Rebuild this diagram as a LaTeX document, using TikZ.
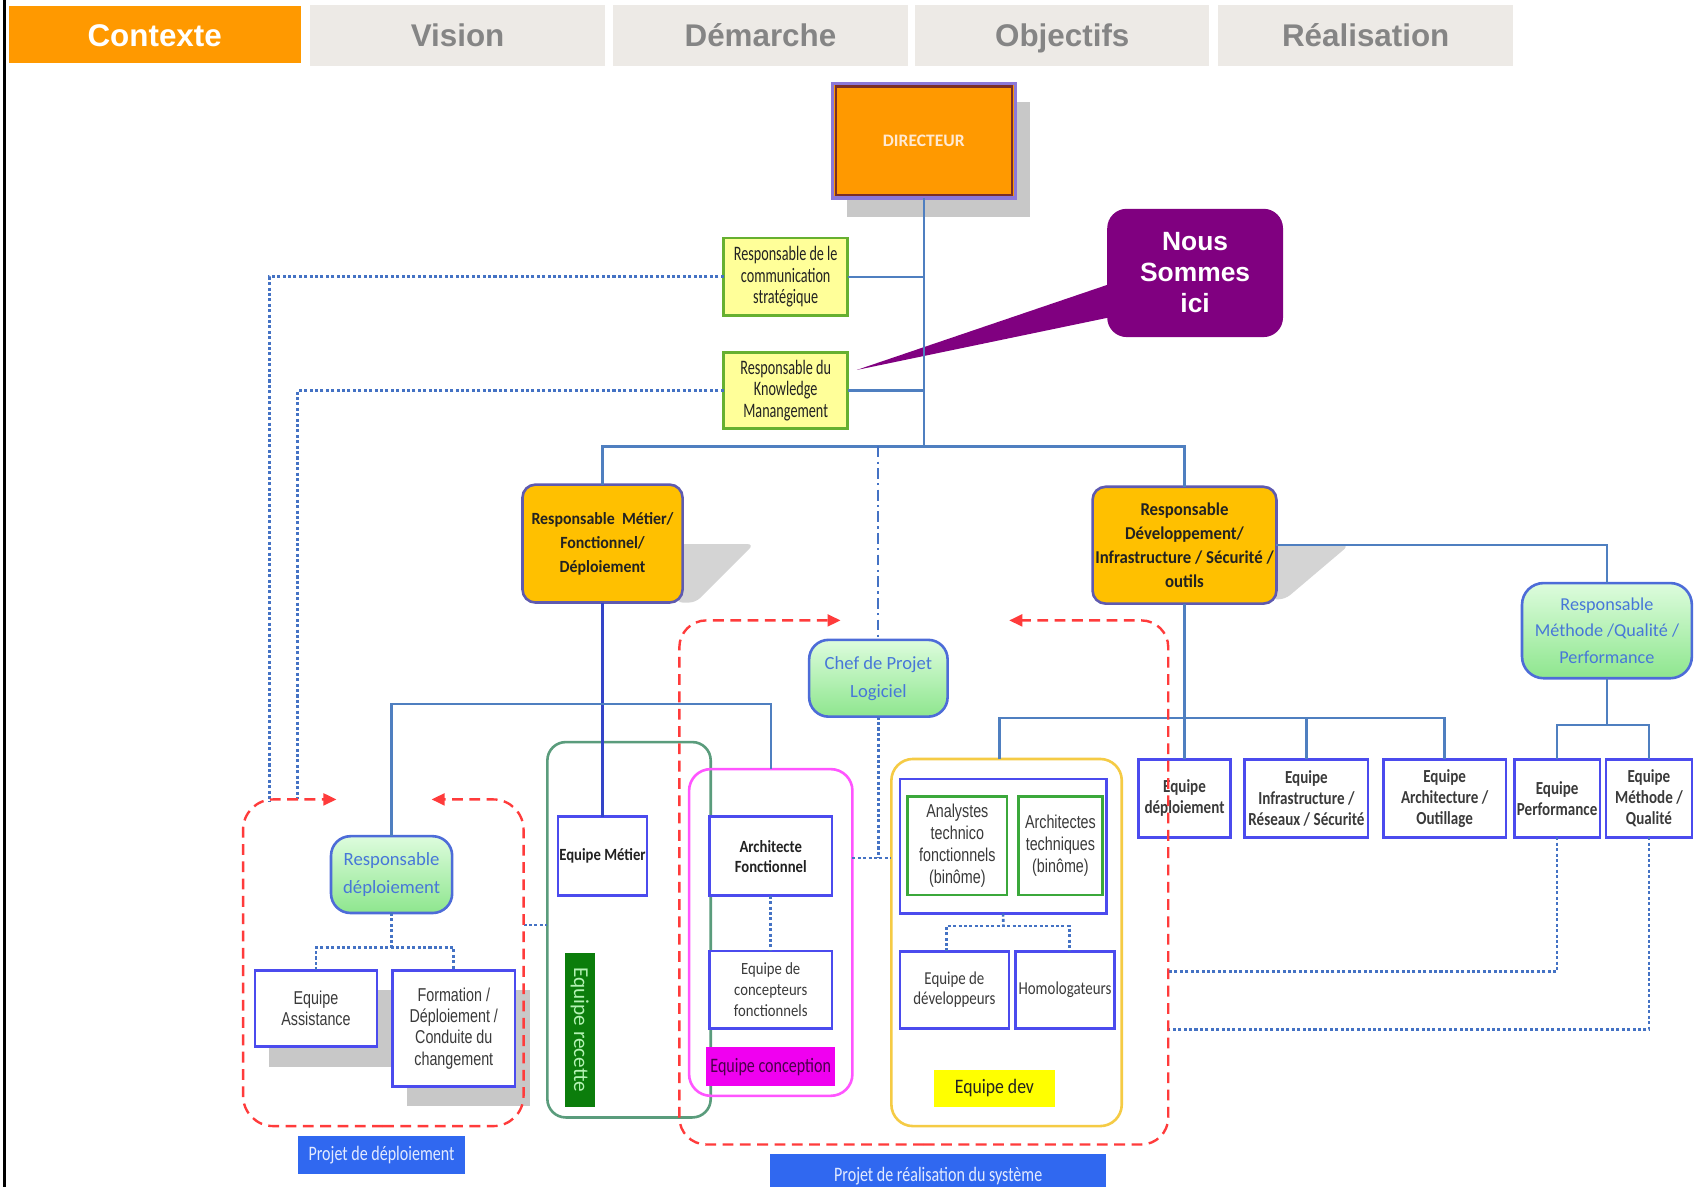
\documentclass[tikz,border=0pt]{standalone}
\usepackage{fontspec}
\setmainfont{Carlito}
\newfontfamily\fA{Carlito}[FakeStretch=0.69]
\newfontfamily\fB{Carlito}[FakeStretch=0.78]
\newfontfamily\fC{Carlito}[FakeStretch=0.82]
\newfontfamily\fD{Carlito}[FakeStretch=0.86]
\newfontfamily\fE{Carlito}[FakeStretch=0.93]
\newfontfamily\fN{Carlito}
\newfontfamily\aC{Liberation Sans}[FakeStretch=0.77]
\newfontfamily\aN{Liberation Sans}
\newcommand\fsz[2]{\fontsize{#1}{#2}\selectfont}
\usetikzlibrary{arrows.meta,calc}

\definecolor{orangeT}{HTML}{FF9900}
\definecolor{tabgrey}{HTML}{EDEAE6}
\definecolor{tabtext}{HTML}{858585}
\definecolor{orgblue}{HTML}{4F7FC0}
\definecolor{darkline}{HTML}{3344C8}
\definecolor{boxblue}{HTML}{4B4BEE}
\definecolor{gold}{HTML}{FFC000}
\definecolor{goldborder}{HTML}{5E5AB0}
\definecolor{paleyellow}{HTML}{FFFF99}
\definecolor{ygreen}{HTML}{66B030}
\definecolor{mintT}{HTML}{DDFCDD}
\definecolor{mintB}{HTML}{8EE68E}
\definecolor{mintborder}{HTML}{4D6CD8}
\definecolor{minttext}{HTML}{4777D8}
\definecolor{calloutc}{HTML}{800080}
\definecolor{reddash}{HTML}{FF3B3B}
\definecolor{dotblue}{HTML}{4472C4}
\definecolor{shadowgrey}{HTML}{C8C8C8}
\definecolor{lightshadow}{HTML}{D4D4D4}
\definecolor{grncont}{HTML}{5A9C7C}
\definecolor{recette}{HTML}{0B7D0B}
\definecolor{recettetext}{HTML}{B4F2B4}
\definecolor{magcont}{HTML}{FF55FF}
\definecolor{magfill}{HTML}{F000F0}
\definecolor{magtext}{HTML}{4A004A}
\definecolor{ylwcont}{HTML}{F5CB45}
\definecolor{ylwfill}{HTML}{FFFF00}
\definecolor{anagreen}{HTML}{3BA83B}
\definecolor{projblue}{HTML}{3068F0}
\definecolor{projtext}{HTML}{E2EAFF}
\definecolor{txt}{HTML}{222222}
\definecolor{txtgrey}{HTML}{3A3A3A}
\definecolor{dirouter}{HTML}{8C78D8}
\definecolor{dirinner}{HTML}{7A2E28}
\definecolor{dirtext}{HTML}{FFE9D2}

\begin{document}
\begin{tikzpicture}[x=0.5pt,y=-0.5pt,
  every node/.style={inner sep=0pt,outer sep=0pt,align=center},
  sz/.style 2 args={minimum width=#1*0.5pt,minimum height=#2*0.5pt},
  tabon/.style={fill=orangeT,text=white,text height=10.6pt,text depth=0pt,font=\aN\bfseries\fsz{14.5}{17}},
  taboff/.style={fill=tabgrey,text=tabtext,text height=10.6pt,text depth=0pt,font=\aN\bfseries\fsz{14.5}{17}},
  orgline/.style={draw=orgblue,line width=1.1pt},
  dotline/.style={draw=dotblue,line width=1.2pt,dash pattern=on 1.4pt off 1.1pt},
  ddline/.style={draw=dotblue,line width=1pt,dash pattern=on 5pt off 2pt on 1pt off 2pt},
  redline/.style={draw=reddash,line width=1.1pt,dash pattern=on 5pt off 3pt,-{Triangle[length=6pt,width=5.5pt]}},
  ybox/.style={fill=paleyellow,draw=ygreen,line width=1.2pt,text=txt,font=\fA\fsz{9.5}{9.9}},
  goldbox/.style={fill=gold,draw=goldborder,line width=1.2pt,rounded corners=6pt,text=txt},
  mint/.style={top color=mintT,bottom color=mintB,draw=mintborder,line width=1.2pt,rounded corners=9pt,text=minttext},
  eqbox/.style={fill=white,draw=boxblue,line width=1.2pt,text=txt},
  cont/.style={line width=1.2pt}
]
\useasboundingbox (0,0) rectangle (1566,1097.3);
\fill[white] (0,0) rectangle (1566,1097.3);

% tabs
\node[tabon,sz={270}{53}] (t1) at (143,32) {Contexte};
\node[taboff,sz={272}{56}] (t2) at (423,32.6) {Vision};
\node[taboff,sz={272}{56}] (t3) at (703,32.6) {Démarche};
\node[taboff,sz={272}{56}] (t4) at (982,32.6) {Objectifs};
\node[taboff,sz={273}{56}] (t5) at (1262.5,32.6) {Réalisation};
\draw[line width=1.2pt] (4,0) -- (4,1097.3);

% containers
\node[cont,draw=grncont,rounded corners=8.5pt,sz={151}{347}] (grn) at (581.5,859.5) {};
\node[cont,draw=magcont,rounded corners=10pt,sz={151}{302}] (pink) at (712.5,862) {};
\node[cont,draw=ylwcont,rounded corners=10pt,sz={213}{339.4}] (ylw) at (930.5,871.3) {};

% directeur
\fill[shadowgrey] (783,94) rectangle (952,201);
\node[fill=orangeT,draw=dirouter,line width=1.5pt,sz={169}{106},text=dirtext,font=\fN\bfseries\fsz{8.1}{10}] (dir) at (854,130) {DIRECTEUR};
\draw[dirinner,line width=1pt] ([shift={(3,3)}]dir.north west) rectangle ([shift={(-3,-3)}]dir.south east);

% staff
\node[ybox,sz={114.6}{71.5}] (comm) at (726.3,255.8) {Responsable de le\\communication\\stratégique};
\node[ybox,sz={114.6}{70}] (km) at (726.3,361) {Responsable du\\Knowledge\\Manangement};

% callout
\node[fill=calloutc,rounded corners=9pt,sz={162.5}{118.6},text=white,font=\aN\bfseries\fsz{12.2}{14.35}] (ici) at (1104.8,252.3) {Nous\\Sommes\\ici};
\coordinate (tip) at (792,342);
\fill[calloutc] ($(ici.west)+(4,9.7)$) -- (tip) -- ($(ici.west)+(4,40.7)$) -- cycle;

% gold managers
\fill[lightshadow,rounded corners=3pt] (625,503) -- (697,503) -- (643,557) -- (625,557) -- cycle;
\fill[lightshadow,rounded corners=3pt] (1174,504) -- (1247,504) -- (1188,554) -- (1174,554) -- cycle;
\node[goldbox,sz={148}{109},font=\fE\bfseries\fsz{7.9}{11.15}] (metier) at (557,502.5) {Responsable\ \ Métier/\\Fonctionnel/\\Déploiement};
\node[goldbox,sz={170}{108},font=\fE\bfseries\fsz{8.35}{11}] (dev) at (1095,504) {Responsable\\Développement/\\Infrastructure / Sécurité /\\outils};

% mint nodes
\node[mint,sz={128}{71},font=\fN\fsz{8.6}{13}] (chef) at (812,627) {Chef de Projet\\Logiciel};
\node[mint,rounded corners=10pt,sz={157}{88},font=\fN\fsz{8.4}{12.3}] (rmeth) at (1485.5,583) {Responsable\\Méthode /Qualité /\\Performance};
\node[mint,sz={112}{71},font=\fN\fsz{8.65}{12.65}] (rdepl) at (362,808.5) {Responsable\\déploiement};

% right row of teams
\tikzset{eqrow/.style={eqbox,text=txtgrey,font=\fC\bfseries\fsz{8.5}{9.7}}}
\node[eqrow,sz={85}{72}] (edep) at (1095,738) {Equipe\\déploiement};
\node[eqrow,sz={114}{72}] (einfra) at (1207.7,738) {Equipe\\Infrastructure /\\Réseaux / Sécurité};
\node[eqrow,sz={113}{72}] (earch) at (1335.5,738) {Equipe\\Architecture /\\Outillage};
\node[eqrow,sz={79}{72}] (eperf) at (1439.5,738) {Equipe\\Performance};
\node[eqrow,sz={79.4}{72}] (emeth) at (1524.3,738) {Equipe\\Méthode /\\Qualité};

% green container content
\node[eqbox,sz={82}{73},font=\fD\bfseries\fsz{7.9}{9.25}] (emet) at (557,791.5) {Equipe Métier};
\node[fill=recette,sz={142}{28},rotate=-90,text=recettetext,font=\fN\fsz{9.8}{11}] (erec) at (536,952) {Equipe recette};

% pink container content
\node[eqbox,sz={113}{73},font=\fD\bfseries\fsz{7.9}{9.25}] (afon) at (712.5,791.5) {Architecte\\Fonctionnel};
\node[eqbox,sz={113}{72},text=txtgrey,font=\fD\fsz{7.9}{9.85}] (econ) at (712.5,915) {Equipe de\\concepteurs\\fonctionnels};
\node[fill=magfill,sz={119}{36},text=magtext,font=\fB\fsz{9.5}{11}] (lcon) at (712.5,986) {Equipe conception};

% yellow container content
\node[eqbox,sz={190.6}{124.5}] (inb) at (927.3,782.2) {};
\node[fill=white,draw=anagreen,line width=1.2pt,sz={92}{91},text=txtgrey,font=\aC\fsz{8.6}{10.15}] (ana) at (885,782) {Analystes\\technico\\fonctionnels\\(binôme)};
\node[fill=white,draw=anagreen,line width=1.2pt,sz={77.4}{91},text=txtgrey,font=\aC\fsz{8.6}{10.15}] (atec) at (980.3,782) {Architectes\\techniques\\(binôme)};
\node[eqbox,sz={100.6}{71},text=txtgrey,font=\fC\fsz{8.4}{9.5}] (edev) at (882.3,915) {Equipe de\\développeurs};
\node[eqbox,sz={92}{71},text=txtgrey,font=\fC\fsz{8.4}{9.5}] (homo) at (984.5,915) {Homologateurs};
\node[fill=ylwfill,sz={112.5}{34.3},text=txt,font=\fD\fsz{9.5}{11}] (ldev) at (919.3,1005.9) {Equipe dev};

% deploy region content
\fill[shadowgrey] (249,915) rectangle (372,986);
\fill[shadowgrey] (375.8,914.8) rectangle (489.7,1022.6);
\node[eqbox,sz={113}{70.4},text=txtgrey,font=\aC\fsz{8.6}{9.7}] (eass) at (292.1,932.2) {Equipe\\Assistance};
\node[eqbox,sz={113}{107.4},text=txtgrey,font=\aC\fsz{8.6}{9.9}] (eform) at (419.5,950.7) {Formation /\\Déploiement /\\Conduite du\\changement};

% project labels
\node[fill=projblue,sz={154.5}{35.3},text=projtext,font=\fB\fsz{9.5}{11}] (pdep) at (352.7,1067.4) {Projet de déploiement};
\node[fill=projblue,sz={310.6}{40},text=projtext,font=\fB\fsz{9.5}{11}] (preal) at (867.3,1087) {Projet de réalisation du système};

% org lines
\coordinate (hub) at (854,412.7);
\draw[orgline] (dir.south) -- (hub);
\draw[orgline] (comm.east) -- (comm.east -| hub);
\draw[orgline] (km.east) -- (km.east -| hub);
\draw[orgline] (metier.north) |- (hub) -| (dev.north);
\draw[ddline] (chef.north |- hub) -- (chef.north);
\draw[orgline] (dev.east) -| (rmeth.north);
\coordinate (hd) at (1095,664);
\draw[orgline] (dev.south) -- (edep.north);
\coordinate (yt) at (924,701.6);
\draw[orgline] (yt) |- (hd) -| (earch.north);
\draw[orgline] (einfra.north) -- (einfra.north |- hd);
\coordinate (hm) at (1485.5,670);
\draw[orgline] (rmeth.south) -- (hm);
\draw[orgline] (eperf.north) |- (hm) -| (emeth.north);
\coordinate (hmt) at (557,651);
\draw[orgline,draw=darkline] (metier.south) -- (emet.north);
\draw[orgline] (rdepl.north) |- (hmt) -| (pink.north);

% dotted links
\coordinate (d1) at (249,741);
\coordinate (d2) at (275,739);
\draw[dotline] (comm.west) -| (d1);
\draw[dotline] (km.west) -| (d2);
\coordinate (dj) at (362,876);
\draw[dotline] (rdepl.south) -- (dj);
\draw[dotline] (eass.north) |- (dj) -| (eform.north);
\coordinate (rdE) at (484,855);
\draw[dotline] (rdE) -- (rdE -| grn.west);
\draw[dotline] (afon.south) -- (econ.north);
\coordinate (pc) at (788,793);
\draw[dotline] (pink.east |- pc) -- (ylw.west |- pc);
\draw[dotline] (chef.south) -- (chef.south |- pc);
\coordinate (yj) at (927.5,856);
\draw[dotline] (inb.south) -- (yj);
\draw[dotline] ([xshift=-3.8pt]edev.north) |- (yj) -| ([xshift=2.1pt]homo.north);
\coordinate (r1) at (1080,898);
\coordinate (r2) at (1080,951.7);
\draw[dotline] (eperf.south) |- (r1);
\draw[dotline] (emeth.south) |- (r2);

% red dashed project outlines
\draw[redline,rounded corners=14pt] (354,1041) -- (224.7,1041) -- (224.7,739) -- (311,739);
\draw[redline,rounded corners=14pt] (354,1041) -- (484,1041) -- (484,739) -- (399,739);
\draw[redline,rounded corners=12.5pt] (854,1058) -- (628,1058) -- (628,573.5) -- (777,573.5);
\draw[redline,rounded corners=12.5pt] (854,1058) -- (1080,1058) -- (1080,573.5) -- (933,573.5);
\end{tikzpicture}
\end{document}
